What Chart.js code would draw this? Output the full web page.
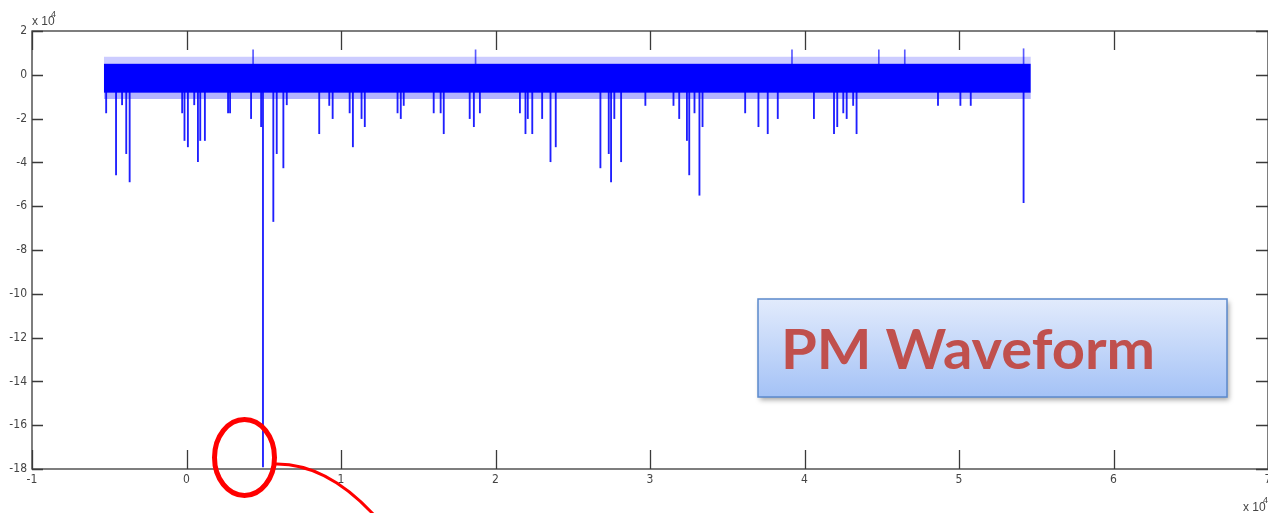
<!DOCTYPE html>
<html>
<head>
<meta charset="utf-8">
<script src="https://cdn.jsdelivr.net/npm/chart.js@4.4.1/dist/chart.umd.min.js"></script>
<style>
  html, body { margin: 0; padding: 0; background: #fff; }
  #wrap { position: relative; width: 1268px; height: 513px; }
</style>
</head>
<body>
<div id="wrap"><canvas id="grafico"></canvas></div>
<script>
// eixo x em unidades de 10^4 amostras, eixo y em unidades de 10^-4
const xTicks = [-1, 0, 1, 2, 3, 4, 5, 6, 7];
const yTicks = [2, 0, -2, -4, -6, -8, -10, -12, -14, -16, -18];

// faixa densa do sinal (envoltoria)
const bandX = [-0.535, 5.465];
const fringeTop = [0.82, 0.82];
const bandTop = [0.5, 0.5];
const bandBottom = [-0.82, -0.82];
const fringeBottom = [-1.1, -1.1];

// picos para baixo
const spikeX = [-0.52, -0.456, -0.417, -0.39, -0.368, -0.028, -0.013, 0.009, 0.05, 0.074, 0.089, 0.119,
  0.269, 0.282, 0.418, 0.483, 0.495, 0.562, 0.584, 0.627, 0.649, 0.859, 0.924, 0.946, 1.056, 1.077,
  1.133, 1.154, 1.366, 1.387, 1.406, 1.6, 1.645, 1.665, 1.833, 1.86, 1.899, 2.158, 2.194, 2.209,
  2.238, 2.302, 2.356, 2.39, 2.679, 2.733, 2.748, 2.769, 2.813, 2.97, 3.152, 3.189, 3.239, 3.254,
  3.288, 3.32, 3.34, 3.616, 3.702, 3.762, 3.827, 4.061, 4.191, 4.212, 4.251, 4.273, 4.315, 4.337,
  4.864, 5.009, 5.076, 5.418];
const spikeMin = [-1.74, -4.57, -1.37, -3.6, -4.89, -1.74, -3.0, -3.29, -1.37, -3.97, -3.0, -3.0,
  -1.74, -1.74, -2.0, -2.37, -17.9, -6.7, -3.6, -4.25, -1.37, -2.69, -1.4, -2.0, -1.74, -3.29,
  -2.0, -2.37, -1.74, -2.0, -1.4, -1.74, -1.74, -2.69, -2.0, -2.37, -1.74, -1.74, -2.69, -2.0,
  -2.69, -2.0, -3.97, -3.29, -4.25, -3.6, -4.89, -2.0, -3.97, -1.4, -1.4, -2.0, -3.0, -4.57,
  -1.74, -5.5, -2.37, -1.74, -2.37, -2.69, -2.0, -2.0, -2.69, -2.37, -1.74, -2.0, -1.4, -2.69,
  -1.4, -1.4, -1.4, -5.84];

// picos para cima
const peakX = [0.431, 1.871, 3.919, 4.481, 4.649, 5.418];
const peakMax = [1.14, 1.14, 1.14, 1.14, 1.14, 1.19];

const tickFont = { family: "'Liberation Sans Narrow', 'DejaVu Sans Condensed', sans-serif", size: 12 };

const moldura = {
  id: 'moldura',
  afterDraw(chart) {
    const { ctx, chartArea: a, scales } = chart;
    ctx.save();
    // caixa dos eixos
    ctx.strokeStyle = '#3a3a3a';
    ctx.lineWidth = 1.3;
    ctx.strokeRect(a.left, a.top, a.right - a.left, a.bottom - a.top);
    // marcas para dentro, estilo matlab
    ctx.beginPath();
    xTicks.forEach(v => {
      const px = Math.round(scales.x.getPixelForValue(v)) + 0.5;
      ctx.moveTo(px, a.bottom); ctx.lineTo(px, a.bottom - 19);
      ctx.moveTo(px, a.top); ctx.lineTo(px, a.top + 19);
    });
    yTicks.forEach(v => {
      const py = Math.round(scales.y.getPixelForValue(v)) + 0.5;
      ctx.moveTo(a.left, py); ctx.lineTo(a.left + 11, py);
      ctx.moveTo(a.right, py); ctx.lineTo(a.right - 12, py);
    });
    ctx.stroke();

    // fatores de escala
    ctx.fillStyle = '#444';
    ctx.font = "12px 'Liberation Sans Narrow', sans-serif";
    ctx.textBaseline = 'alphabetic';
    ctx.fillText('x 10', 32, 25);
    ctx.fillText('x 10', 1243, 511);
    ctx.font = "9px 'Liberation Sans Narrow', sans-serif";
    ctx.fillText('4', 51, 17);
    ctx.fillText('4', 1263, 503);

    // circulo vermelho
    ctx.strokeStyle = '#ff0000';
    ctx.lineWidth = 5;
    ctx.beginPath();
    ctx.ellipse(244.5, 457.5, 30, 38, 0, 0, Math.PI * 2);
    ctx.stroke();
    ctx.lineWidth = 3;
    ctx.beginPath();
    ctx.moveTo(275, 464);
    ctx.quadraticCurveTo(326, 463, 374, 515);
    ctx.stroke();

    // caixa de texto
    ctx.shadowColor = 'rgba(0,0,0,0.35)';
    ctx.shadowBlur = 5;
    ctx.shadowOffsetX = 2;
    ctx.shadowOffsetY = 3;
    const g = ctx.createLinearGradient(0, 299, 0, 397);
    g.addColorStop(0, '#e2ebfc');
    g.addColorStop(1, '#a4c2f6');
    ctx.fillStyle = g;
    ctx.fillRect(758, 299, 469, 98);
    ctx.shadowColor = 'transparent';
    ctx.strokeStyle = '#5b89cc';
    ctx.lineWidth = 1.5;
    ctx.strokeRect(758, 299, 469, 98);
    ctx.font = "bold 55px Lato, 'Open Sans', sans-serif";
    const w = ctx.measureText('PM Waveform').width;
    ctx.translate(781, 369);
    ctx.scale(374 / w, 1);
    ctx.fillStyle = '#c0504d';
    ctx.fillText('PM Waveform', 0, 0);
    ctx.restore();
  }
};

const linha = (ys, fill, cor, ordem) => ({
  type: 'line',
  data: bandX.map((x, i) => ({ x, y: ys[i] })),
  borderWidth: 0, borderColor: 'transparent', pointRadius: 0,
  fill: fill, backgroundColor: cor, order: ordem
});

const ctx = document.getElementById('grafico');
new Chart(ctx, {
  type: 'bar',
  data: {
    datasets: [
      linha(fringeTop, '+1', 'rgba(0, 0, 255, 0.2)', 3),
      linha(bandTop, '+1', '#0000ff', 2),
      linha(bandBottom, '+1', 'rgba(0, 0, 255, 0.3)', 3),
      linha(fringeBottom, false, 'transparent', 3),
      {
        type: 'bar',
        data: spikeX.map((x, i) => ({ x, y: [0, spikeMin[i]] })),
        backgroundColor: '#1f1fff',
        barThickness: 1.2, grouped: false, order: 5
      },
      {
        type: 'bar',
        data: peakX.map((x, i) => ({ x, y: [0, peakMax[i]] })),
        backgroundColor: '#5a5aff',
        barThickness: 1, grouped: false, order: 5
      }
    ]
  },
  options: {
    responsive: true,
    maintainAspectRatio: false,
    animation: false,
    layout: { padding: { top: 31, right: 0, left: 0, bottom: 0 } },
    plugins: {
      legend: { display: false },
      tooltip: { enabled: false }
    },
    scales: {
      x: {
        type: 'linear',
        min: -1, max: 7,
        offset: false,
        grid: { display: false, drawTicks: false, offset: false },
        border: { display: false },
        afterBuildTicks: s => { s.ticks = xTicks.map(v => ({ value: v })); },
        afterFit: s => { s.height = 44; s.paddingLeft = 0; s.paddingRight = 0; },
        ticks: { font: tickFont, color: '#444', padding: 4, maxRotation: 0, autoSkip: false }
      },
      y: {
        type: 'linear',
        min: -18, max: 2,
        grid: { display: false, drawTicks: false },
        border: { display: false },
        afterBuildTicks: s => { s.ticks = yTicks.map(v => ({ value: v })); },
        afterFit: s => { s.width = 32; s.paddingTop = 0; s.paddingBottom = 0; },
        ticks: { font: tickFont, color: '#444', padding: 5, autoSkip: false }
      }
    }
  },
  plugins: [moldura]
});
</script>
</body>
</html>
